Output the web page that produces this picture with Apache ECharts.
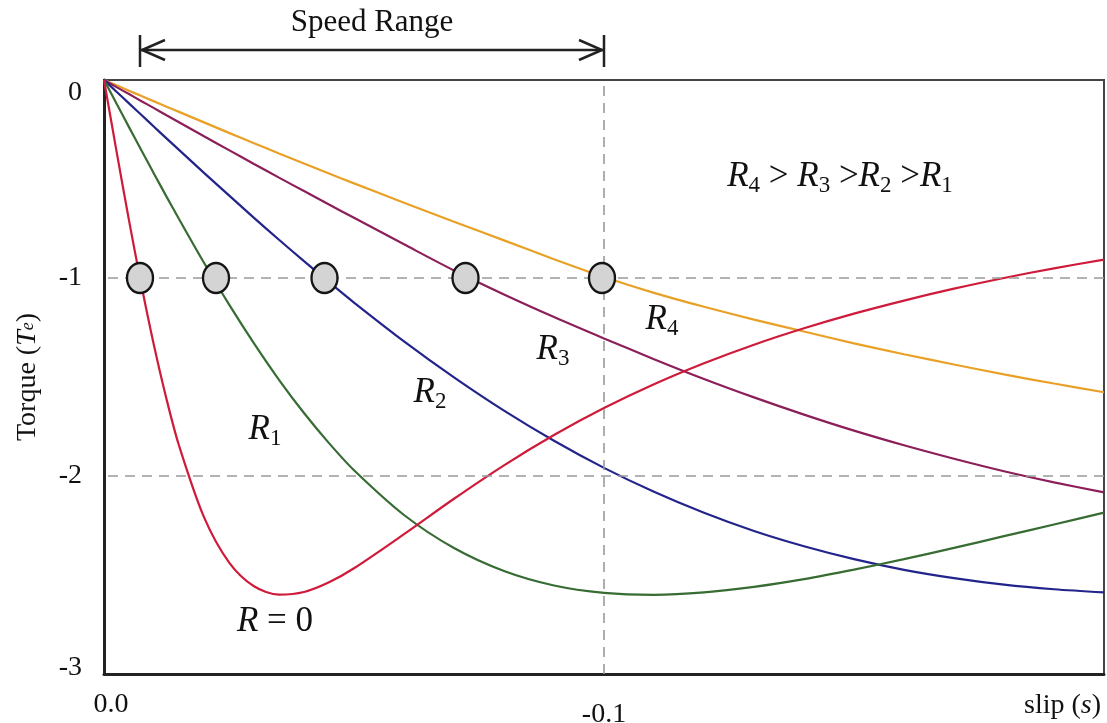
<!DOCTYPE html>
<html>
<head>
<meta charset="utf-8">
<title>Torque vs slip</title>
<script src="https://cdn.jsdelivr.net/npm/echarts@6/dist/echarts.min.js"></script>
<style>
  html, body { margin: 0; padding: 0; background: #fff; }
  #chart { width: 1107px; height: 723px; }
</style>
</head>
<body>
<div id="chart"></div>
<script>
// slip (negative = generating) and torque values
const slip = [0, -0.0025, -0.005, -0.0075, -0.01, -0.0125, -0.015, -0.02, -0.025, -0.03, -0.035, -0.04, -0.045, -0.05,
  -0.06, -0.07, -0.08, -0.09, -0.1, -0.11, -0.12, -0.13, -0.14, -0.15, -0.16, -0.17, -0.18, -0.19, -0.2];

const torqueR0 = [0, -0.359, -0.709, -1.038, -1.341, -1.611, -1.846, -2.208, -2.436, -2.557, -2.599, -2.586, -2.537, -2.466,
  -2.294, -2.115, -1.946, -1.793, -1.657, -1.537, -1.431, -1.337, -1.254, -1.180, -1.114, -1.054, -1.000, -0.951, -0.907];
const torqueR1 = [0, -0.119, -0.238, -0.356, -0.473, -0.589, -0.702, -0.923, -1.133, -1.330, -1.514, -1.682, -1.834, -1.971,
  -2.197, -2.364, -2.480, -2.553, -2.590, -2.600, -2.588, -2.560, -2.521, -2.473, -2.420, -2.363, -2.304, -2.245, -2.185];
const torqueR2 = [0, -0.059, -0.118, -0.177, -0.236, -0.295, -0.353, -0.469, -0.583, -0.696, -0.807, -0.915, -1.021, -1.124,
  -1.320, -1.502, -1.670, -1.822, -1.959, -2.080, -2.186, -2.278, -2.355, -2.420, -2.474, -2.516, -2.549, -2.572, -2.588];
const torqueR3 = [0, -0.036, -0.071, -0.107, -0.142, -0.178, -0.213, -0.284, -0.354, -0.424, -0.493, -0.561, -0.629, -0.696,
  -0.830, -0.962, -1.083, -1.197, -1.305, -1.410, -1.510, -1.603, -1.690, -1.771, -1.845, -1.913, -1.976, -2.032, -2.083];
const torqueR4 = [0, -0.027, -0.054, -0.081, -0.108, -0.135, -0.161, -0.214, -0.267, -0.319, -0.371, -0.422, -0.472, -0.522,
  -0.620, -0.716, -0.810, -0.905, -0.995, -1.075, -1.145, -1.210, -1.270, -1.330, -1.385, -1.437, -1.487, -1.533, -1.577];

// operating points on the Te = -1 line
const opSlip = [-0.0072, -0.0224, -0.0441, -0.0723, -0.0996];
const opTorque = -1;

// axis ticks
const yTickValues = [0, -1, -2, -3];
const yTickLabels = ['0', '-1', '-2', '-3'];
const xTickValues = [0, -0.1];
const xTickLabels = ['0.0', '-0.1'];

// dashed reference lines
const refTorque = [-1, -2];
const refSlip = [-0.1];

// speed range (from first operating point to -0.1)
const speedRange = [-0.0072, -0.1];

// curve annotations
const noteSlip = [-0.0322, -0.0652, -0.0898, -0.1116, -0.0342, -0.1472];
const noteTorque = [-1.768, -1.581, -1.364, -1.212, -2.737, -0.49];
const noteText = [
  '{r|R}{s|1}',
  '{r|R}{s|2}',
  '{r|R}{s|3}',
  '{r|R}{s|4}',
  '{r|R}{n| = 0}',
  '{r|R}{s|4}{n| > }{r|R}{s|3}{n| >}{r|R}{s|2}{n| >}{r|R}{s|1}'
];

const FONT = '"Liberation Serif", "DejaVu Serif", serif';
const INK = '#111';

function pairs(ys) {
  return slip.map((x, i) => [x, ys[i]]);
}

function curve(name, ys, color) {
  return {
    name: name,
    type: 'line',
    data: pairs(ys),
    smooth: 0.3,
    showSymbol: false,
    symbol: 'none',
    lineStyle: { color: color, width: 2.2 },
    z: 3
  };
}

const richNote = {
  r: { fontFamily: FONT, fontStyle: 'italic', fontSize: 35, color: INK, lineHeight: 40, verticalAlign: 'middle' },
  s: { fontFamily: FONT, fontSize: 23, color: INK, lineHeight: 22, verticalAlign: 'bottom' },
  n: { fontFamily: FONT, fontSize: 35, color: INK, lineHeight: 40, verticalAlign: 'middle' }
};

const option = {
  animation: false,
  backgroundColor: '#fff',
  grid: {
    left: 104, right: 3, top: 80, bottom: 49,
    outerBoundsMode: 'none',
    show: true, borderColor: '#444', borderWidth: 2
  },
  xAxis: {
    type: 'value',
    min: -0.2, max: 0, interval: 0.1,
    inverse: true,
    axisLine: { show: true, onZero: false, lineStyle: { color: '#222', width: 3 } },
    axisTick: { show: false },
    splitLine: { show: false },
    axisLabel: {
      margin: 13,
      formatter: function (v) {
        for (let i = 0; i < xTickValues.length; i++) {
          if (Math.abs(v - xTickValues[i]) < 1e-9) {
            return (i === 0 ? '{a|' : '{b|') + xTickLabels[i] + '}';
          }
        }
        return '';
      },
      rich: {
        a: { fontFamily: FONT, fontSize: 28, color: INK, padding: [4, 0, 0, 14] },
        b: { fontFamily: FONT, fontSize: 28, color: INK, padding: [14, 0, 0, 0] }
      }
    }
  },
  yAxis: {
    type: 'value',
    min: -3, max: 0, interval: 1,
    axisLine: { show: true, onZero: false, lineStyle: { color: '#222', width: 3 } },
    axisTick: { show: false },
    splitLine: { show: false },
    axisLabel: {
      margin: 22,
      formatter: function (v) {
        const i = yTickValues.findIndex(t => Math.abs(t - v) < 1e-9);
        if (i < 0) return '';
        return (i === 0 ? '{top|' : i === yTickValues.length - 1 ? '{bot|' : '{mid|') + yTickLabels[i] + '}';
      },
      rich: {
        top: { fontFamily: FONT, fontSize: 28, color: INK, padding: [26, 0, 0, 0] },
        mid: { fontFamily: FONT, fontSize: 28, color: INK },
        bot: { fontFamily: FONT, fontSize: 28, color: INK, padding: [0, 0, 12, 0] }
      }
    },
    name: 'Torque ({it|T}{sm|e})',
    nameLocation: 'middle',
    nameGap: 62,
    nameRotate: 90,
    nameTextStyle: {
      fontFamily: FONT, fontSize: 28, color: INK,
      rich: {
        it: { fontFamily: FONT, fontStyle: 'italic', fontSize: 28, color: INK },
        sm: { fontFamily: FONT, fontStyle: 'italic', fontSize: 18, color: INK }
      }
    }
  },
  series: [
    curve('R4', torqueR4, '#e8a126'),
    curve('R3', torqueR3, '#8c1f5a'),
    curve('R2', torqueR2, '#22248c'),
    curve('R1', torqueR1, '#376c33'),
    Object.assign(curve('R=0', torqueR0, '#cf1b3a'), {
      markLine: {
        silent: true,
        symbol: 'none',
        label: { show: false },
        lineStyle: { color: '#9a9a9a', type: [10, 7], width: 1.6 },
        data: refTorque.map(t => ({ yAxis: t })).concat(refSlip.map(s => ({ xAxis: s })))
      }
    }),
    {
      name: 'operating points',
      type: 'scatter',
      data: opSlip.map(s => [s, opTorque]),
      symbol: 'circle',
      symbolSize: [26, 30],
      itemStyle: { color: '#d4d4d4', borderColor: '#151515', borderWidth: 2.5, opacity: 1 },
      z: 5
    },
    {
      name: 'notes',
      type: 'scatter',
      data: noteSlip.map((s, i) => ({ value: [s, noteTorque[i]], text: noteText[i] })),
      symbolSize: 0,
      silent: true,
      itemStyle: { opacity: 1 },
      label: {
        show: true,
        position: 'inside',
        formatter: p => p.data.text,
        rich: richNote
      },
      z: 6
    }
  ]
};

const chart = echarts.init(document.getElementById('chart'));
chart.setOption(option);

// "Speed Range" arrow above the plot, anchored to the slip axis
const xa = chart.convertToPixel({ gridIndex: 0 }, [speedRange[0], 0])[0];
const xb = chart.convertToPixel({ gridIndex: 0 }, [speedRange[1], 0])[0];
const yArr = 50;
const stroke = { stroke: '#222', lineWidth: 2.5 };
chart.setOption({
  graphic: [
    { type: 'line', shape: { x1: xa, y1: yArr, x2: xb, y2: yArr }, style: stroke },
    { type: 'line', shape: { x1: xa, y1: 35, x2: xa, y2: 67 }, style: stroke },
    { type: 'line', shape: { x1: xb, y1: 35, x2: xb, y2: 67 }, style: stroke },
    { type: 'polyline', shape: { points: [[xa + 25, 40], [xa + 2, yArr], [xa + 25, 60]] }, style: Object.assign({ fill: null }, stroke) },
    { type: 'polyline', shape: { points: [[xb - 25, 40], [xb - 2, yArr], [xb - 25, 60]] }, style: Object.assign({ fill: null }, stroke) },
    {
      type: 'text', x: (xa + xb) / 2, y: 23,
      style: { text: 'Speed Range', font: '31px ' + FONT, fill: INK, align: 'center', verticalAlign: 'middle' }
    },
    {
      type: 'text', x: 1101, y: 706,
      style: {
        text: 'slip ({it|s})', font: '28px ' + FONT, fill: INK, align: 'right', verticalAlign: 'middle',
        rich: { it: { font: 'italic 28px ' + FONT, fill: INK } }
      }
    }
  ]
});
</script>
</body>
</html>
